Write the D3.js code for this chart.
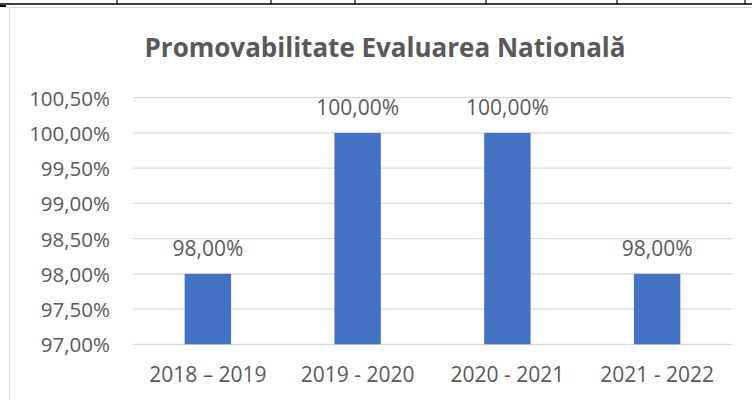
<!DOCTYPE html>
<html>
<head>
<meta charset="utf-8">
<script src="https://cdn.jsdelivr.net/npm/d3@7"></script>
<style>
  body { margin: 0; background: #fff; }
  text { font-family: "Open Sans", sans-serif; fill: #595959; }
</style>
</head>
<body>
<div id="wrapper"></div>
<script>
const title = "Promovabilitate Evaluarea Natională";
const categories = ["2018 – 2019", "2019 - 2020", "2020 - 2021", "2021 - 2022"];
const values = [98, 100, 100, 98];
const yTicks = [97, 97.5, 98, 98.5, 99, 99.5, 100, 100.5];
// table border fragments above the chart
const tableCols = [117, 271, 355, 486, 617, 745];

function drawBarChart() {
  let dimensions = {
    width: 752,
    height: 400,
    margin: { top: 97.7, right: 20, bottom: 55.7, left: 133 },
  };
  dimensions.boundedWidth = 732 - dimensions.margin.left;
  dimensions.boundedHeight = dimensions.height - dimensions.margin.top - dimensions.margin.bottom;

  const ro = d3.formatLocale({ decimal: ",", thousands: ".", grouping: [3], currency: ["", " lei"] });
  const pct = v => ro.format(".2f")(v) + "%";

  const svg = d3.select("#wrapper")
    .append("svg")
    .attr("width", dimensions.width)
    .attr("height", dimensions.height);

  // chart frame
  svg.append("rect")
    .attr("x", 9.5).attr("y", 7.5)
    .attr("width", 800).attr("height", 500)
    .attr("fill", "#fff")
    .attr("stroke", "#d9d9d9")
    .attr("stroke-width", 1);

  // table lines at top
  svg.append("line")
    .attr("x1", 0).attr("x2", dimensions.width)
    .attr("y1", 4).attr("y2", 4)
    .attr("stroke", "#000").attr("stroke-width", 1.5);
  svg.selectAll(".tcol")
    .data(tableCols)
    .join("line")
    .attr("x1", d => d).attr("x2", d => d)
    .attr("y1", 0).attr("y2", 4)
    .attr("stroke", "#000").attr("stroke-width", 1.2);
  svg.append("line")
    .attr("x1", 0).attr("x2", 6)
    .attr("y1", 6).attr("y2", 6)
    .attr("stroke", "#000").attr("stroke-width", 2);

  svg.append("text")
    .attr("x", 385)
    .attr("y", 57)
    .attr("text-anchor", "middle")
    .style("font-size", "26px")
    .style("font-weight", "bold")
    .text(title);

  const bounds = svg.append("g")
    .attr("transform", `translate(${dimensions.margin.left},${dimensions.margin.top})`);

  const yScale = d3.scaleLinear()
    .domain([97, 100.5])
    .range([dimensions.boundedHeight, 0]);

  const xScale = d3.scaleBand()
    .domain(categories)
    .range([0, dimensions.boundedWidth])
    .paddingInner(0.69)
    .paddingOuter(0.345);

  // gridlines
  bounds.append("g")
    .selectAll("line")
    .data(yTicks)
    .join("line")
    .attr("x1", 0).attr("x2", dimensions.boundedWidth)
    .attr("y1", d => yScale(d)).attr("y2", d => yScale(d))
    .attr("stroke", "#d9d9d9")
    .attr("stroke-width", 1.3);

  const yAxis = bounds.append("g")
    .attr("transform", "translate(-23,0)")
    .call(d3.axisLeft(yScale).tickValues(yTicks).tickFormat(pct).tickSize(0).tickPadding(0));
  yAxis.select(".domain").remove();
  yAxis.selectAll("text")
    .style("font-size", "20.5px")
    .style("font-family", "'Open Sans', sans-serif")
    .attr("fill", "#595959")
    .attr("dy", "0.36em");

  bounds.selectAll(".bar")
    .data(values)
    .join("rect")
    .attr("class", "bar")
    .attr("x", (d, i) => xScale(categories[i]))
    .attr("width", xScale.bandwidth())
    .attr("y", d => yScale(d))
    .attr("height", d => dimensions.boundedHeight - yScale(d))
    .attr("fill", "#4472c4");

  bounds.selectAll(".val")
    .data(values)
    .join("text")
    .attr("class", "val")
    .attr("x", (d, i) => xScale(categories[i]) + xScale.bandwidth() / 2)
    .attr("y", d => yScale(d) - 18)
    .attr("text-anchor", "middle")
    .style("font-size", "21px")
    .text(pct);

  const xAxis = bounds.append("g")
    .attr("transform", `translate(0,${dimensions.boundedHeight})`)
    .call(d3.axisBottom(xScale).tickSize(0).tickPadding(0));
  xAxis.select(".domain").remove();
  xAxis.selectAll("text")
    .style("font-size", "21px")
    .style("font-family", "'Open Sans', sans-serif")
    .attr("fill", "#595959")
    .attr("dy", 0)
    .attr("y", 38);
}

drawBarChart();
</script>
</body>
</html>
